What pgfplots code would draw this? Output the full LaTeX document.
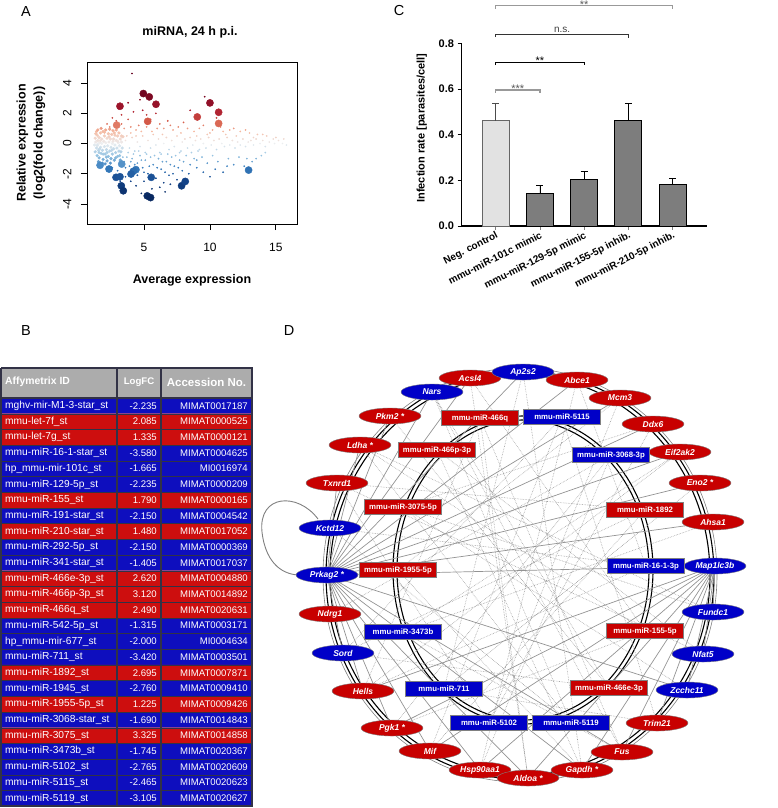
\documentclass[border=0pt]{standalone}
\usepackage{fontspec}
\setmainfont{Liberation Sans}
\setsansfont{Liberation Sans}
\usepackage{pgfplots}
\pgfplotsset{compat=1.18}
\usetikzlibrary{shapes.geometric}

\definecolor{tblue}{RGB}{14,14,190}
\definecolor{tred}{RGB}{205,14,14}
\definecolor{hgray}{RGB}{172,172,172}
\definecolor{tline}{RGB}{50,50,70}
\definecolor{nred}{RGB}{200,0,0}
\definecolor{nblue}{RGB}{0,0,200}
\definecolor{negfill}{RGB}{226,226,226}
\definecolor{barfill}{RGB}{125,125,125}

\newcommand\fs[1]{\fontsize{#1}{#1}\selectfont}
\tikzset{
  tcell/.style={text=white, font=\fs{9.6}, inner sep=0pt},
  hcell/.style={text=white, font=\bfseries\fs{10.4}, inner sep=0pt},
}
% one table row: y centre, ID, logFC, accession
\newcommand\trow[4]{%
  \node[tcell,anchor=west,font=\fs{10.2}] at (axis cs:5,#1) {#2};%
  \node[tcell,anchor=east] at (axis cs:157,#1) {#3};%
  \node[tcell,anchor=east] at (axis cs:248,#1) {#4};}

\pgfplotsset{
  colormap={rdbu}{rgb255(0cm)=(8,40,95); rgb255(12cm)=(20,70,140);
    rgb255(20cm)=(55,125,190); rgb255(28cm)=(150,195,225);
    rgb255(36cm)=(236,238,240); rgb255(44cm)=(245,185,160);
    rgb255(50cm)=(215,95,75); rgb255(58cm)=(170,25,45); rgb255(72cm)=(100,0,30)},
  netnode/.style={only marks, mark=*, mark size=0pt, point meta=explicit symbolic,
    nodes near coords={\pgfplotspointmeta}},
}

\begin{document}
\begin{tikzpicture}
\useasboundingbox (0,0) rectangle (777pt,-808pt);

% ---------------- A: MA plot
\begin{axis}[
  at={(87pt,-224pt)}, anchor=south west, scale only axis,
  width=210pt, height=162pt,
  xmin=0.68, xmax=16.6, ymin=-5.33, ymax=5.4,
  xtick={5,10,15}, ytick={-4,-2,0,2,4},
  tick align=outside, tick pos=left, major tick length=6pt,
  axis line style={line width=0.8pt}, tick style={black, line width=0.8pt},
  ticklabel style={font=\fs{12}},
  /pgf/number format/assume math mode=true,
  xticklabel style={yshift=-10pt},
  yticklabel style={xshift=-6pt, rotate=90, anchor=south},
  colormap name=rdbu, point meta min=-3.6, point meta max=3.6,
]
% dense pale cloud
\addplot[scatter, only marks, mark=*, mark size=1.4pt, point meta=y,
  scatter/use mapped color={draw=mapped color, fill=mapped color}] coordinates {
(1.25,-0.1)(1.3,0.35)(1.3,-0.55)(1.35,0.1)(1.4,-0.3)(1.45,0.55)(1.45,-0.8)(1.5,0.2)
(1.5,-0.05)(1.55,-0.45)(1.6,0.4)(1.6,-0.95)(1.65,0.05)(1.7,0.7)(1.7,-0.25)(1.75,-0.65)
(1.8,0.3)(1.8,0.0)(1.85,-0.45)(1.9,0.8)(1.9,-1.05)(1.95,0.15)(2.0,-0.2)(2.0,0.5)
(2.05,-0.7)(2.1,0.9)(2.1,0.05)(2.15,-0.4)(2.2,0.35)(2.2,-1.15)(2.25,-0.15)(2.3,0.65)
(2.3,-0.85)(2.35,0.1)(2.4,-0.5)(2.4,0.95)(2.45,0.3)(2.5,-0.25)(2.5,-1.0)(2.55,0.6)
(2.6,0.0)(2.6,-0.7)(2.65,0.85)(2.7,-0.35)(2.7,0.3)(2.75,-1.1)(2.8,0.55)(2.8,-0.1)
(2.85,-0.6)(2.9,0.2)(2.9,0.9)(2.95,-0.3)(3.0,0.5)(3.0,-0.85)(3.05,0.05)(3.1,-0.5)
(3.1,0.7)(3.15,-0.15)(3.2,0.3)(3.2,-1.1)(3.25,-0.55)(3.3,0.1)(3.35,-0.3)(3.4,0.45)
(1.4,0.8)(1.55,-1.2)(1.75,1.0)(1.85,-1.3)(2.05,-1.35)(2.45,-1.3)(1.35,0.65)(1.5,0.9)
(1.6,-0.6)(1.7,0.2)(1.9,-0.7)(2.0,0.75)(2.2,-0.6)(2.35,0.45)(2.55,-0.45)(2.65,0.15)
(2.85,-0.95)(3.0,0.15)(3.15,-0.8)(3.3,0.5)(1.45,-0.15)(1.65,-0.35)(2.15,-0.9)(2.75,0.7)
};
% scattered probes
\addplot[scatter, only marks, mark=*, mark size=0.65pt, point meta=y,
  scatter/use mapped color={draw=mapped color, fill=mapped color}] coordinates {
(4.09,4.64)(2.2,1.3)(2.6,1.7)(2.9,1.5)(3.1,2.3)(2.4,1.1)(3.3,1.3)
(3.5,1.0)(3.8,1.6)(4.0,0.7)(4.2,2.1)(4.4,0.9)(4.6,1.2)(3.3,1.9)(3.8,2.7)(4.7,2.9)
(4.9,2.2)(5.2,1.9)(5.5,1.6)(5.9,2.0)(6.2,1.3)(6.5,1.0)(6.8,1.5)(7.2,0.9)(7.6,1.1)
(8.0,1.4)(8.5,2.2)(8.8,0.8)(9.2,1.0)(9.6,3.1)(9.8,0.6)(10.2,0.9)(10.5,1.7)(11.0,0.8)
(11.5,0.9)(11.8,1.0)(12.3,0.8)(13.0,0.7)(13.6,0.6)(14.3,0.5)(14.8,0.3)(15.5,0.0)(15.8,-0.1)
(3.6,0.2)(3.9,-0.3)(4.1,0.4)(4.3,-0.5)(4.5,0.1)(4.7,-0.2)(4.9,0.5)(5.1,-0.6)(5.3,0.2)
(5.5,-0.3)(5.7,0.6)(5.9,-0.1)(6.1,0.3)(6.3,-0.7)(6.5,0.0)(6.7,0.4)(6.9,-0.4)(7.1,0.2)
(7.3,-0.2)(7.5,0.5)(7.7,-0.6)(7.9,0.1)(8.1,0.3)(8.3,-0.3)(8.5,0.4)(8.7,-0.1)(8.9,0.2)
(9.1,-0.5)(9.3,0.3)(9.5,0.0)(9.7,-0.3)(9.9,0.4)(10.1,-0.1)(10.3,0.2)(10.5,-0.4)(10.7,0.3)
(10.9,0.0)(11.1,-0.2)(11.3,0.4)(11.5,-0.1)(11.7,0.2)(11.9,-0.3)(12.1,0.1)(12.3,-0.1)
(12.5,0.3)(12.7,-0.2)(12.9,0.1)(13.1,0.2)(13.3,-0.1)(13.5,0.3)(13.8,0.0)(14.0,0.2)
(14.2,-0.2)(14.5,0.1)(14.9,0.0)(15.2,0.2)
(3.5,-1.2)(3.7,-0.9)(3.9,-1.5)(4.1,-1.0)(4.3,-1.9)(4.5,-1.3)(4.7,-0.8)(4.9,-1.6)(5.1,-1.1)
(5.3,-2.0)(5.5,-0.9)(5.7,-1.4)(5.9,-2.3)(6.1,-1.0)(6.3,-1.7)(6.5,-2.6)(6.7,-1.2)(6.9,-2.1)
(7.1,-0.9)(7.3,-1.5)(7.5,-2.4)(7.7,-1.1)(7.9,-1.8)(8.2,-0.8)(8.5,-1.4)(8.8,-1.0)(9.0,-1.6)
(9.4,-0.9)(9.8,-1.3)(10.2,-0.8)(10.6,-1.2)(11.0,-1.9)(11.4,-1.0)(11.8,-1.4)(12.2,-0.9)
(12.6,-1.5)(13.2,-1.2)(13.5,-1.0)(13.9,-0.8)(14.2,-0.6)(4.4,-2.8)(5.0,-2.5)(5.6,-3.0)
(6.2,-2.9)(6.6,-3.2)(7.0,-2.7)(4.8,-3.3)(3.2,-2.5)(3.0,-1.8)(2.6,-1.6)(2.8,-2.1)(3.6,-2.2)
(4.0,-2.5)(9.5,-1.9)(10.0,-2.2)
(3.4,-0.9)(3.6,-1.6)(3.8,-0.6)(3.9,-2.0)(4.0,-1.2)(4.2,-0.7)(4.3,-1.4)(4.5,-2.1)(4.6,-0.5)
(4.8,-1.1)(5.0,-1.9)(5.2,-0.7)(5.4,-1.5)(5.6,-2.2)(5.8,-0.8)(6.0,-1.6)(6.2,-0.6)(6.4,-1.2)
(6.6,-1.9)(6.8,-0.7)(7.0,-1.4)(7.2,-2.0)(7.4,-0.8)(7.6,-1.6)(7.8,-0.5)(8.0,-1.2)(8.4,-2.0)
(8.6,-0.6)(9.0,-1.1)(9.2,-0.4)(3.7,0.5)(4.0,1.1)(4.4,0.5)(4.8,0.8)(5.2,1.1)(5.6,0.8)
(6.0,1.0)(6.4,0.6)(7.0,1.2)(7.8,0.7)(8.3,1.0)(9.0,0.5)(9.5,1.2)(10.0,0.7)(10.8,1.1)
(11.2,0.6)(12.0,0.5)(12.7,0.9)(13.3,0.4)(14.0,0.6)(15.0,0.4)(15.6,0.3)(12.8,-1.0)
(11.3,-1.5)(10.4,-1.7)
};
% significant miRNAs
\addplot[scatter, only marks, mark=*, mark size=3.6pt, point meta=y,
  scatter/use mapped color={draw=mapped color, fill=mapped color}] coordinates {
(3.18,2.47)(4.95,3.31)(5.40,3.09)(5.91,2.60)(10.0,2.69)(10.66,2.07)
(2.93,1.22)(5.28,1.47)(9.04,1.76)(10.66,1.33)
(1.67,-1.44)(2.35,-1.69)(3.31,-1.36)(4.39,-1.73)(12.93,-1.76)(4.19,-1.84)
(2.88,-2.24)(3.18,-2.20)(4.02,-2.02)(5.55,-2.24)(3.28,-2.80)(3.43,-3.13)
(5.25,-3.47)(5.50,-3.58)(7.85,-2.80)(8.13,-2.51)
};
\end{axis}
\node[font=\bfseries\fs{12.5}] at (190pt,-32pt) {miRNA, 24 h p.i.};
\node[font=\bfseries\fs{12.5}] at (192pt,-280pt) {Average expression};
\node[font=\bfseries\fontsize{12.5}{17}\selectfont, rotate=90, align=center]
  at (31pt,-143pt) {Relative expression\\(log2(fold change))};

% ---------------- C: infection rate
\begin{axis}[
  at={(461pt,-226pt)}, anchor=south west, scale only axis,
  width=246pt, height=182.7pt,
  xmin=-0.784, xmax=4.775, ymin=0, ymax=0.8,
  axis x line*=bottom, axis y line*=left,
  x axis line style={-, line width=1.6pt}, y axis line style={-, line width=0.9pt},
  xtick={0,1,2,3,4},
  xticklabels={Neg. control, mmu-miR-101c mimic, mmu-miR-129-5p mimic,
    mmu-miR-155-5p inhib., mmu-miR-210-5p inhib.},
  ytick={0,0.2,0.4,0.6,0.8},
  tick align=outside, major tick length=3.5pt,
  xtick style={gray, line width=0.8pt}, ytick style={black, line width=0.9pt},
  /pgf/number format/assume math mode=true,
  yticklabel style={font=\bfseries\fs{11}, /pgf/number format/fixed,
    /pgf/number format/fixed zerofill, /pgf/number format/precision=1},
  xticklabel style={font=\bfseries\fs{10}, rotate=27, anchor=north east, inner sep=1pt},
  clip=false,
]
\addplot[ybar, bar width=0.61, bar shift=0pt, fill=negfill, draw=black!60, line width=1pt,
  error bars/.cd, y dir=plus, y explicit,
  error bar style={black!70, line width=0.9pt},
  error mark options={rotate=90, mark size=3.5pt, line width=0.9pt, black!70}]
  coordinates {(0,0.461) +- (0,0.074)};
\addplot[ybar, bar width=0.61, bar shift=0pt, fill=barfill, draw=black, line width=1pt,
  error bars/.cd, y dir=plus, y explicit,
  error bar style={black, line width=0.9pt},
  error mark options={rotate=90, mark size=3.5pt, line width=0.9pt, black}]
  coordinates {(1,0.141) +- (0,0.038) (2,0.203) +- (0,0.035)
               (3,0.461) +- (0,0.074) (4,0.180) +- (0,0.030)};
% significance brackets
\addplot[gray!80, line width=1.4pt] coordinates {(0,0.583) (0,0.596) (1,0.596) (1,0.581)};
\addplot[black, line width=0.7pt] coordinates {(0,0.705) (0,0.718) (2,0.718) (2,0.703)};
\addplot[black!80, line width=0.7pt] coordinates {(0,0.827) (0,0.840) (3,0.840) (3,0.825)};
\addplot[gray!80, line width=1.4pt] coordinates {(0,0.952) (0,0.965) (4,0.965) (4,0.950)};
\node[gray!70!black, font=\fs{11}, inner sep=0pt] at (axis cs:0.5,0.600) {***};
\node[font=\fs{11}, inner sep=0pt] at (axis cs:1,0.722) {**};
\node[black!75, font=\fs{10}, inner sep=0pt] at (axis cs:1.5,0.861) {n.s.};
\node[gray!70!black, font=\fs{11}, inner sep=0pt] at (axis cs:2,0.969) {**};
\end{axis}
\node[font=\bfseries\fs{11}, rotate=90] at (421.7pt,-128pt) {Infection rate [parasites/cell]};

% ---------------- B and D: page-sized overlay axis in pixel units
\begin{axis}[
  at={(0pt,-808pt)}, anchor=south west, scale only axis,
  width=777pt, height=808pt,
  xmin=0, xmax=777, ymin=0, ymax=808, y dir=reverse,
  hide axis, clip=false,
]
% table rows
\addplot[xbar, bar width=30, bar shift=0pt, fill=hgray, draw=none] coordinates {(252,383)};
\addplot[xbar, bar width=15.7, bar shift=0pt, fill=tblue, draw=none] coordinates {
(252,405.85)(252,452.95)(252,468.65)(252,484.35)(252,515.75)(252,547.15)(252,562.85)
(252,625.65)(252,641.35)(252,657.05)(252,688.45)(252,719.85)(252,751.25)(252,766.95)
(252,782.65)(252,798.35)};
\addplot[xbar, bar width=15.7, bar shift=0pt, fill=tred, draw=none] coordinates {
(252,421.55)(252,437.25)(252,500.05)(252,531.45)(252,578.55)(252,594.25)(252,609.95)
(252,672.75)(252,704.15)(252,735.55)};
% grid
\addplot[tline, line width=0.4pt, unbounded coords=jump] coordinates {
(1,413.7)(252,413.7)(nan,nan)(1,429.4)(252,429.4)(nan,nan)(1,445.1)(252,445.1)(nan,nan)
(1,460.8)(252,460.8)(nan,nan)(1,476.5)(252,476.5)(nan,nan)(1,492.2)(252,492.2)(nan,nan)
(1,507.9)(252,507.9)(nan,nan)(1,523.6)(252,523.6)(nan,nan)(1,539.3)(252,539.3)(nan,nan)
(1,555)(252,555)(nan,nan)(1,570.7)(252,570.7)(nan,nan)(1,586.4)(252,586.4)(nan,nan)
(1,602.1)(252,602.1)(nan,nan)(1,617.8)(252,617.8)(nan,nan)(1,633.5)(252,633.5)(nan,nan)
(1,649.2)(252,649.2)(nan,nan)(1,664.9)(252,664.9)(nan,nan)(1,680.6)(252,680.6)(nan,nan)
(1,696.3)(252,696.3)(nan,nan)(1,712)(252,712)(nan,nan)(1,727.7)(252,727.7)(nan,nan)
(1,743.4)(252,743.4)(nan,nan)(1,759.1)(252,759.1)(nan,nan)(1,774.8)(252,774.8)(nan,nan)
(1,790.5)(252,790.5)};
\addplot[tline, line width=1.2pt, unbounded coords=jump] coordinates {
(117,368)(117,806)(nan,nan)(161,368)(161,806)(nan,nan)(1,398)(252,398)};
\addplot[tline, line width=1.6pt] coordinates {(1,368)(252,368)(252,806)(1,806)(1,368)};
\node[hcell, anchor=west] at (axis cs:5,382) {Affymetrix ID};
\node[hcell, font=\bfseries\fs{9.6}] at (axis cs:139,382) {LogFC};
\node[hcell, font=\bfseries\fs{11.5}] at (axis cs:206.5,382) {Accession No.};
\trow{405.85}{mghv-mir-M1-3-star\_st}{-2.235}{MIMAT0017187}
\trow{421.55}{mmu-let-7f\_st}{2.085}{MIMAT0000525}
\trow{437.25}{mmu-let-7g\_st}{1.335}{MIMAT0000121}
\trow{452.95}{mmu-miR-16-1-star\_st}{-3.580}{MIMAT0004625}
\trow{468.65}{hp\_mmu-mir-101c\_st}{-1.665}{MI0016974}
\trow{484.35}{mmu-miR-129-5p\_st}{-2.235}{MIMAT0000209}
\trow{500.05}{mmu-miR-155\_st}{1.790}{MIMAT0000165}
\trow{515.75}{mmu-miR-191-star\_st}{-2.150}{MIMAT0004542}
\trow{531.45}{mmu-miR-210-star\_st}{1.480}{MIMAT0017052}
\trow{547.15}{mmu-miR-292-5p\_st}{-2.150}{MIMAT0000369}
\trow{562.85}{mmu-miR-341-star\_st}{-1.405}{MIMAT0017037}
\trow{578.55}{mmu-miR-466e-3p\_st}{2.620}{MIMAT0004880}
\trow{594.25}{mmu-miR-466p-3p\_st}{3.120}{MIMAT0014892}
\trow{609.95}{mmu-miR-466q\_st}{2.490}{MIMAT0020631}
\trow{625.65}{mmu-miR-542-5p\_st}{-1.315}{MIMAT0003171}
\trow{641.35}{hp\_mmu-mir-677\_st}{-2.000}{MI0004634}
\trow{657.05}{mmu-miR-711\_st}{-3.420}{MIMAT0003501}
\trow{672.75}{mmu-miR-1892\_st}{2.695}{MIMAT0007871}
\trow{688.45}{mmu-miR-1945\_st}{-2.760}{MIMAT0009410}
\trow{704.15}{mmu-miR-1955-5p\_st}{1.225}{MIMAT0009426}
\trow{719.85}{mmu-miR-3068-star\_st}{-1.690}{MIMAT0014843}
\trow{735.55}{mmu-miR-3075\_st}{3.325}{MIMAT0014858}
\trow{751.25}{mmu-miR-3473b\_st}{-1.745}{MIMAT0020367}
\trow{766.95}{mmu-miR-5102\_st}{-2.765}{MIMAT0020609}
\trow{782.65}{mmu-miR-5115\_st}{-2.465}{MIMAT0020623}
\trow{798.35}{mmu-miR-5119\_st}{-3.105}{MIMAT0020627}

% network: rings
\draw[black, line width=1.1pt] (axis cs:520,575) ellipse [x radius=190pt, y radius=200pt];
\draw[black, line width=1.1pt] (axis cs:520,575) ellipse [x radius=194pt, y radius=204pt];
\draw[gray, line width=0.6pt] (axis cs:520,575) ellipse [x radius=197pt, y radius=207pt];
\draw[black, line width=1.1pt] (axis cs:523,570) ellipse [x radius=126pt, y radius=150pt];
\draw[black, line width=1.1pt] (axis cs:523,570) ellipse [x radius=130pt, y radius=154pt];
% predicted miRNA-target edges
\addplot[gray!75, densely dotted, line width=0.6pt, unbounded coords=jump] coordinates {
(480,418)(363,691)(nan,nan)(480,418)(622,752)(nan,nan)(480,418)(528,778)(nan,nan)
(562,417)(343,653)(nan,nan)(562,417)(657,723)(nan,nan)(562,417)(430,751)(nan,nan)
(437,450)(582,770)(nan,nan)(437,450)(703,654)(nan,nan)
(611,455)(480,770)(nan,nan)(611,455)(392,728)(nan,nan)(611,455)(330,614)(nan,nan)
(403,507)(713,612)(nan,nan)(403,507)(687,690)(nan,nan)(403,507)(653,424)(nan,nan)
(645,510)(343,653)(nan,nan)(645,510)(337,483)(nan,nan)(645,510)(430,751)(nan,nan)
(646,566)(330,528)(nan,nan)(646,566)(363,691)(nan,nan)(646,566)(577,380)(nan,nan)
(398,570)(620,398)(nan,nan)(398,570)(582,770)(nan,nan)
(403,632)(680,452)(nan,nan)(403,632)(713,522)(nan,nan)(403,632)(622,752)(nan,nan)
(645,631)(360,445)(nan,nan)(645,631)(470,378)(nan,nan)(645,631)(392,728)(nan,nan)
(444,689)(700,483)(nan,nan)(444,689)(523,372)(nan,nan)(444,689)(657,723)(nan,nan)
(609,688)(432,392)(nan,nan)(609,688)(390,416)(nan,nan)(609,688)(343,653)(nan,nan)
(489,723)(620,398)(nan,nan)(489,723)(653,424)(nan,nan)(489,723)(337,483)(nan,nan)
(571,723)(432,392)(nan,nan)(571,723)(360,445)(nan,nan)(571,723)(330,528)(nan,nan)
(470,378)(528,778)(nan,nan)(577,380)(480,770)(nan,nan)(523,372)(582,770)(nan,nan)
(432,392)(622,752)(nan,nan)(680,452)(363,691)(nan,nan)(360,445)(713,612)(nan,nan)
(337,483)(703,654)};
% solid edges
\addplot[gray!85, line width=0.7pt, unbounded coords=jump] coordinates {
(327,575)(432,392)(nan,nan)(327,575)(470,378)(nan,nan)(327,575)(523,372)(nan,nan)
(327,575)(577,380)(nan,nan)(327,575)(620,398)(nan,nan)(327,575)(653,424)(nan,nan)
(327,575)(680,452)(nan,nan)(327,575)(700,483)(nan,nan)(327,575)(713,522)(nan,nan)
(327,575)(715,566)(nan,nan)(327,575)(390,416)(nan,nan)(327,575)(360,445)(nan,nan)
(327,575)(337,483)(nan,nan)(327,575)(343,653)(nan,nan)(327,575)(363,691)(nan,nan)
(327,575)(392,728)(nan,nan)(327,575)(430,751)(nan,nan)(327,575)(480,770)(nan,nan)
(327,575)(528,778)(nan,nan)(327,575)(582,770)(nan,nan)(327,575)(622,752)(nan,nan)
(327,575)(687,690)(nan,nan)
(715,566)(430,751)(nan,nan)(715,566)(480,770)(nan,nan)(715,566)(528,778)(nan,nan)
(715,566)(582,770)(nan,nan)(715,566)(622,752)(nan,nan)(715,566)(657,723)(nan,nan)
(715,566)(687,690)(nan,nan)(715,566)(703,654)(nan,nan)(715,566)(713,612)(nan,nan)
(715,566)(392,728)(nan,nan)(715,566)(363,691)};
\draw[gray, line width=0.9pt] (axis cs:318,519) .. controls (axis cs:298,492) and (axis cs:258,494)
  .. (axis cs:262,532) .. controls (axis cs:266,566) and (axis cs:285,575) .. (axis cs:300,575);
% gene nodes
\addplot[netnode, nodes near coords style={ellipse, fill=nred, draw=black!50, line width=0.4pt,
  text=white, font=\bfseries\itshape\fs{8.5}, minimum width=62pt, minimum height=16pt,
  inner sep=0pt, anchor=center}] coordinates {
(470,378)[Acsl4] (577,380)[Abce1] (620,398)[Mcm3] (390,416)[Pkm2 *] (653,424)[Ddx6]
(360,445)[Ldha *] (680,452)[Eif2ak2] (337,483)[Txnrd1] (700,483)[Eno2 *] (713,522)[Ahsa1]
(330,614)[Ndrg1] (363,691)[Hells] (392,728)[Pgk1 *] (657,723)[Trim21] (430,751)[Mif]
(622,752)[Fus] (480,770)[Hsp90aa1] (582,770)[Gapdh *] (528,778)[Aldoa *]};
\addplot[netnode, nodes near coords style={ellipse, fill=nblue, draw=black!50, line width=0.4pt,
  text=white, font=\bfseries\itshape\fs{8.5}, minimum width=62pt, minimum height=16pt,
  inner sep=0pt, anchor=center}] coordinates {
(523,372)[Ap2s2] (432,392)[Nars] (330,528)[Kctd12] (327,575)[Prkag2 *] (715,566)[Map1lc3b]
(713,612)[Fundc1] (343,653)[Sord] (703,654)[Nfat5] (687,690)[Zcchc11]};
% miRNA nodes
\addplot[netnode, nodes near coords style={rectangle, fill=nred, draw=black!50, line width=0.4pt,
  text=white, font=\bfseries\fs{7.8}, minimum width=77pt, minimum height=15pt,
  inner sep=0pt, anchor=center}] coordinates {
(480,418)[mmu-miR-466q] (437,450)[mmu-miR-466p-3p] (403,507)[mmu-miR-3075-5p]
(645,510)[mmu-miR-1892] (398,570)[mmu-miR-1955-5p] (645,631)[mmu-miR-155-5p]
(609,688)[mmu-miR-466e-3p]};
\addplot[netnode, nodes near coords style={rectangle, fill=nblue, draw=black!50, line width=0.4pt,
  text=white, font=\bfseries\fs{7.8}, minimum width=77pt, minimum height=15pt,
  inner sep=0pt, anchor=center}] coordinates {
(562,417)[mmu-miR-5115] (611,455)[mmu-miR-3068-3p] (646,566)[mmu-miR-16-1-3p]
(403,632)[mmu-miR-3473b] (444,689)[mmu-miR-711] (489,723)[mmu-miR-5102]
(571,723)[mmu-miR-5119]};
\end{axis}

% panel letters
\node[font=\fs{14.5}] at (26pt,-12pt) {A};
\node[font=\fs{14.5}] at (26pt,-331pt) {B};
\node[font=\fs{14.5}] at (399pt,-11pt) {C};
\node[font=\fs{14.5}] at (289pt,-331pt) {D};
\end{tikzpicture}
\end{document}
